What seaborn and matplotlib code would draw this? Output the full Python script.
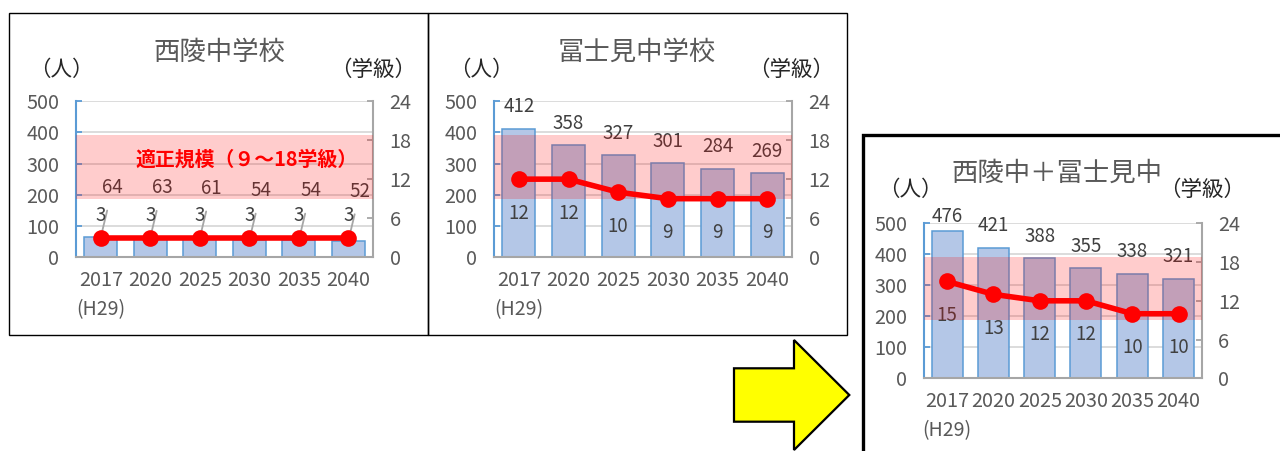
import numpy as np
import matplotlib
matplotlib.use("Agg")
import matplotlib.pyplot as plt
from matplotlib.patches import Rectangle, Polygon
import seaborn as sns

# ---------------- data ----------------
years = ["2017", "2020", "2025", "2030", "2035", "2040"]
year_note = "(H29)"

seiryo_students = [64, 63, 61, 54, 54, 52]
seiryo_classes = [3, 3, 3, 3, 3, 3]

fujimi_students = [412, 358, 327, 301, 284, 269]
fujimi_classes = [12, 12, 10, 9, 9, 9]

merged_students = [476, 421, 388, 355, 338, 321]
merged_classes = [15, 13, 12, 12, 10, 10]

titles = ["西陵中学校", "冨士見中学校", "西陵中＋冨士見中"]
left_unit = "（人）"
right_unit = "（学級）"
band_label = "適正規模（９～18学級）"
band_range = (9, 18.8)        # in classes (right axis)

left_ticks = [0, 100, 200, 300, 400, 500]
right_ticks = [0, 6, 12, 18, 24]

# ---------------- style ----------------
sns.set_style("white")
plt.rcParams["font.family"] = ["Noto Sans CJK JP", "DejaVu Sans"]

W, H = 1280, 451
fig = plt.figure(figsize=(W / 100, H / 100), dpi=100)


def fx(x):
    return x / W


def fy(y):
    return 1 - y / H


BAR_FC = "#B4C7E7"
BAR_EC = "#5B9BD5"
GRAY_TXT = "#595959"
DARK_TXT = "#404040"
GRID = "#D9D9D9"
TICK_FS = 14.3


def panel(rect, title, students, classes, title_pos, lunit_pos, runit_pos,
          show_band_text=False):
    l, r, t, b = rect
    ax = fig.add_axes([fx(l), fy(b), fx(r - l), (b - t) / H])
    n = len(years)
    sns.barplot(x=years, y=students, ax=ax, color=BAR_FC, saturation=1,
                edgecolor=BAR_EC, linewidth=1.1, width=0.67, errorbar=None,
                zorder=2)
    ax.set_xlim(-0.5, n - 0.5)
    ax.set_ylim(left_ticks[0], left_ticks[-1])
    ax.set_yticks(left_ticks)
    for v in left_ticks[1:]:
        ax.axhline(v, color=GRID, lw=1.3, zorder=0.5)
    ax.grid(False)
    for s in ["top", "right"]:
        ax.spines[s].set_visible(False)
    ax.spines["left"].set_color(BAR_EC)
    ax.spines["left"].set_linewidth(1.5)
    ax.spines["bottom"].set_color("#A6A6A6")
    ax.spines["bottom"].set_linewidth(1.5)
    ax.tick_params(axis="y", direction="in", length=4, width=1.3, color=BAR_EC,
                   labelcolor=GRAY_TXT, labelsize=TICK_FS, pad=12)
    ax.tick_params(axis="x", length=0, pad=9, labelsize=TICK_FS,
                   labelcolor=GRAY_TXT)
    ax.set_xlabel("")
    ax.set_ylabel("")
    ax.text(0, -0.335, year_note, transform=ax.get_xaxis_transform(),
            ha="center", va="center", fontsize=14, color=GRAY_TXT)

    # bar value labels
    unit_px = (b - t) / (left_ticks[-1] - left_ticks[0])   # pixels per person
    for i, v in enumerate(students):
        if show_band_text:
            ax.annotate(str(v), xy=(i, v), xytext=(12, 50),
                        textcoords="offset pixels", ha="center", va="center",
                        fontsize=13.5, color=DARK_TXT, zorder=3,
                        arrowprops=dict(arrowstyle="-", color="#A6A6A6",
                                        lw=1.3, shrinkA=7, shrinkB=0))
        else:
            ty = min(v + 22 / unit_px, left_ticks[-1] + 7 / unit_px)
            ax.annotate(str(v), xy=(i, v), xytext=(i, ty),
                        textcoords="data", ha="center", va="center",
                        fontsize=13.5, color=DARK_TXT, zorder=3,
                        annotation_clip=False)

    # classes on right axis
    ax2 = ax.twinx()
    sns.lineplot(x=np.arange(n), y=classes, ax=ax2, color="#FF0000",
                 marker="o", markersize=12, markeredgewidth=0, linewidth=4,
                 zorder=2)
    ax2.set_xlim(-0.5, n - 0.5)
    ax2.set_ylim(right_ticks[0], right_ticks[-1])
    ax2.set_yticks(right_ticks)
    ax2.set_ylabel("")
    for s in ["top", "left", "bottom"]:
        ax2.spines[s].set_visible(False)
    ax2.spines["right"].set_color("#A6A6A6")
    ax2.spines["right"].set_linewidth(1.5)
    ax2.tick_params(axis="y", direction="in", length=4, width=1.3,
                    color="#A6A6A6", labelcolor=GRAY_TXT, labelsize=TICK_FS,
                    pad=12)
    for i, c in enumerate(classes):
        dy = 22 if show_band_text else -34
        ax2.annotate(str(c), xy=(i, c), xytext=(0, dy),
                     textcoords="offset pixels", ha="center", va="center",
                     fontsize=13.5, color=DARK_TXT, zorder=3)
    ax2.axhspan(band_range[0], band_range[1], color="#FF0000", alpha=0.2,
                lw=0, zorder=4)
    if show_band_text:
        ax2.text(0.575, 0.63, band_label, transform=ax2.transAxes,
                 ha="center", va="center", fontsize=14.3, fontweight="bold",
                 color="#FF0000", zorder=5)

    fig.text(fx(title_pos[0]), fy(title_pos[1]), title, ha="center",
             va="center", fontsize=19, color=GRAY_TXT)
    fig.text(fx(lunit_pos[0]), fy(lunit_pos[1]), left_unit, ha="center",
             va="center", fontsize=15.5, color="#262626")
    fig.text(fx(runit_pos[0]), fy(runit_pos[1]), right_unit, ha="center",
             va="center", fontsize=15.5, color="#262626")
    return ax, ax2


# frames
fig.patches.append(Rectangle((fx(9), fy(335)), fx(419), (335 - 13) / H,
                             transform=fig.transFigure, fill=False,
                             ec="black", lw=1.0, zorder=0))
fig.patches.append(Rectangle((fx(428), fy(335)), fx(419), (335 - 13) / H,
                             transform=fig.transFigure, fill=False,
                             ec="black", lw=1.0, zorder=0))
fig.patches.append(Rectangle((fx(863), fy(470)), fx(450), (470 - 135) / H,
                             transform=fig.transFigure, fill=False,
                             ec="black", lw=2.4, zorder=0))

# arrow
arrow_pts = [(734, 368.3), (794, 368.3), (794, 340), (849.3, 395),
             (794, 450), (794, 421.7), (734, 421.7)]
fig.patches.append(Polygon([(fx(x), fy(y)) for x, y in arrow_pts],
                           closed=True, transform=fig.transFigure,
                           fc="#FFFF00", ec="black", lw=1.6, zorder=0))

panel((76, 373, 101, 257.3), titles[0], seiryo_students, seiryo_classes,
      (219, 52), (61.5, 70), (373.5, 70), show_band_text=True)
panel((494, 792, 101, 257.3), titles[1], fujimi_students, fujimi_classes,
      (637, 52), (481, 70), (791, 70))
panel((924, 1201.7, 223.3, 378.3), titles[2], merged_students, merged_classes,
      (1057, 173), (910, 190), (1202, 190))

fig.savefig("out.png", dpi=100)
